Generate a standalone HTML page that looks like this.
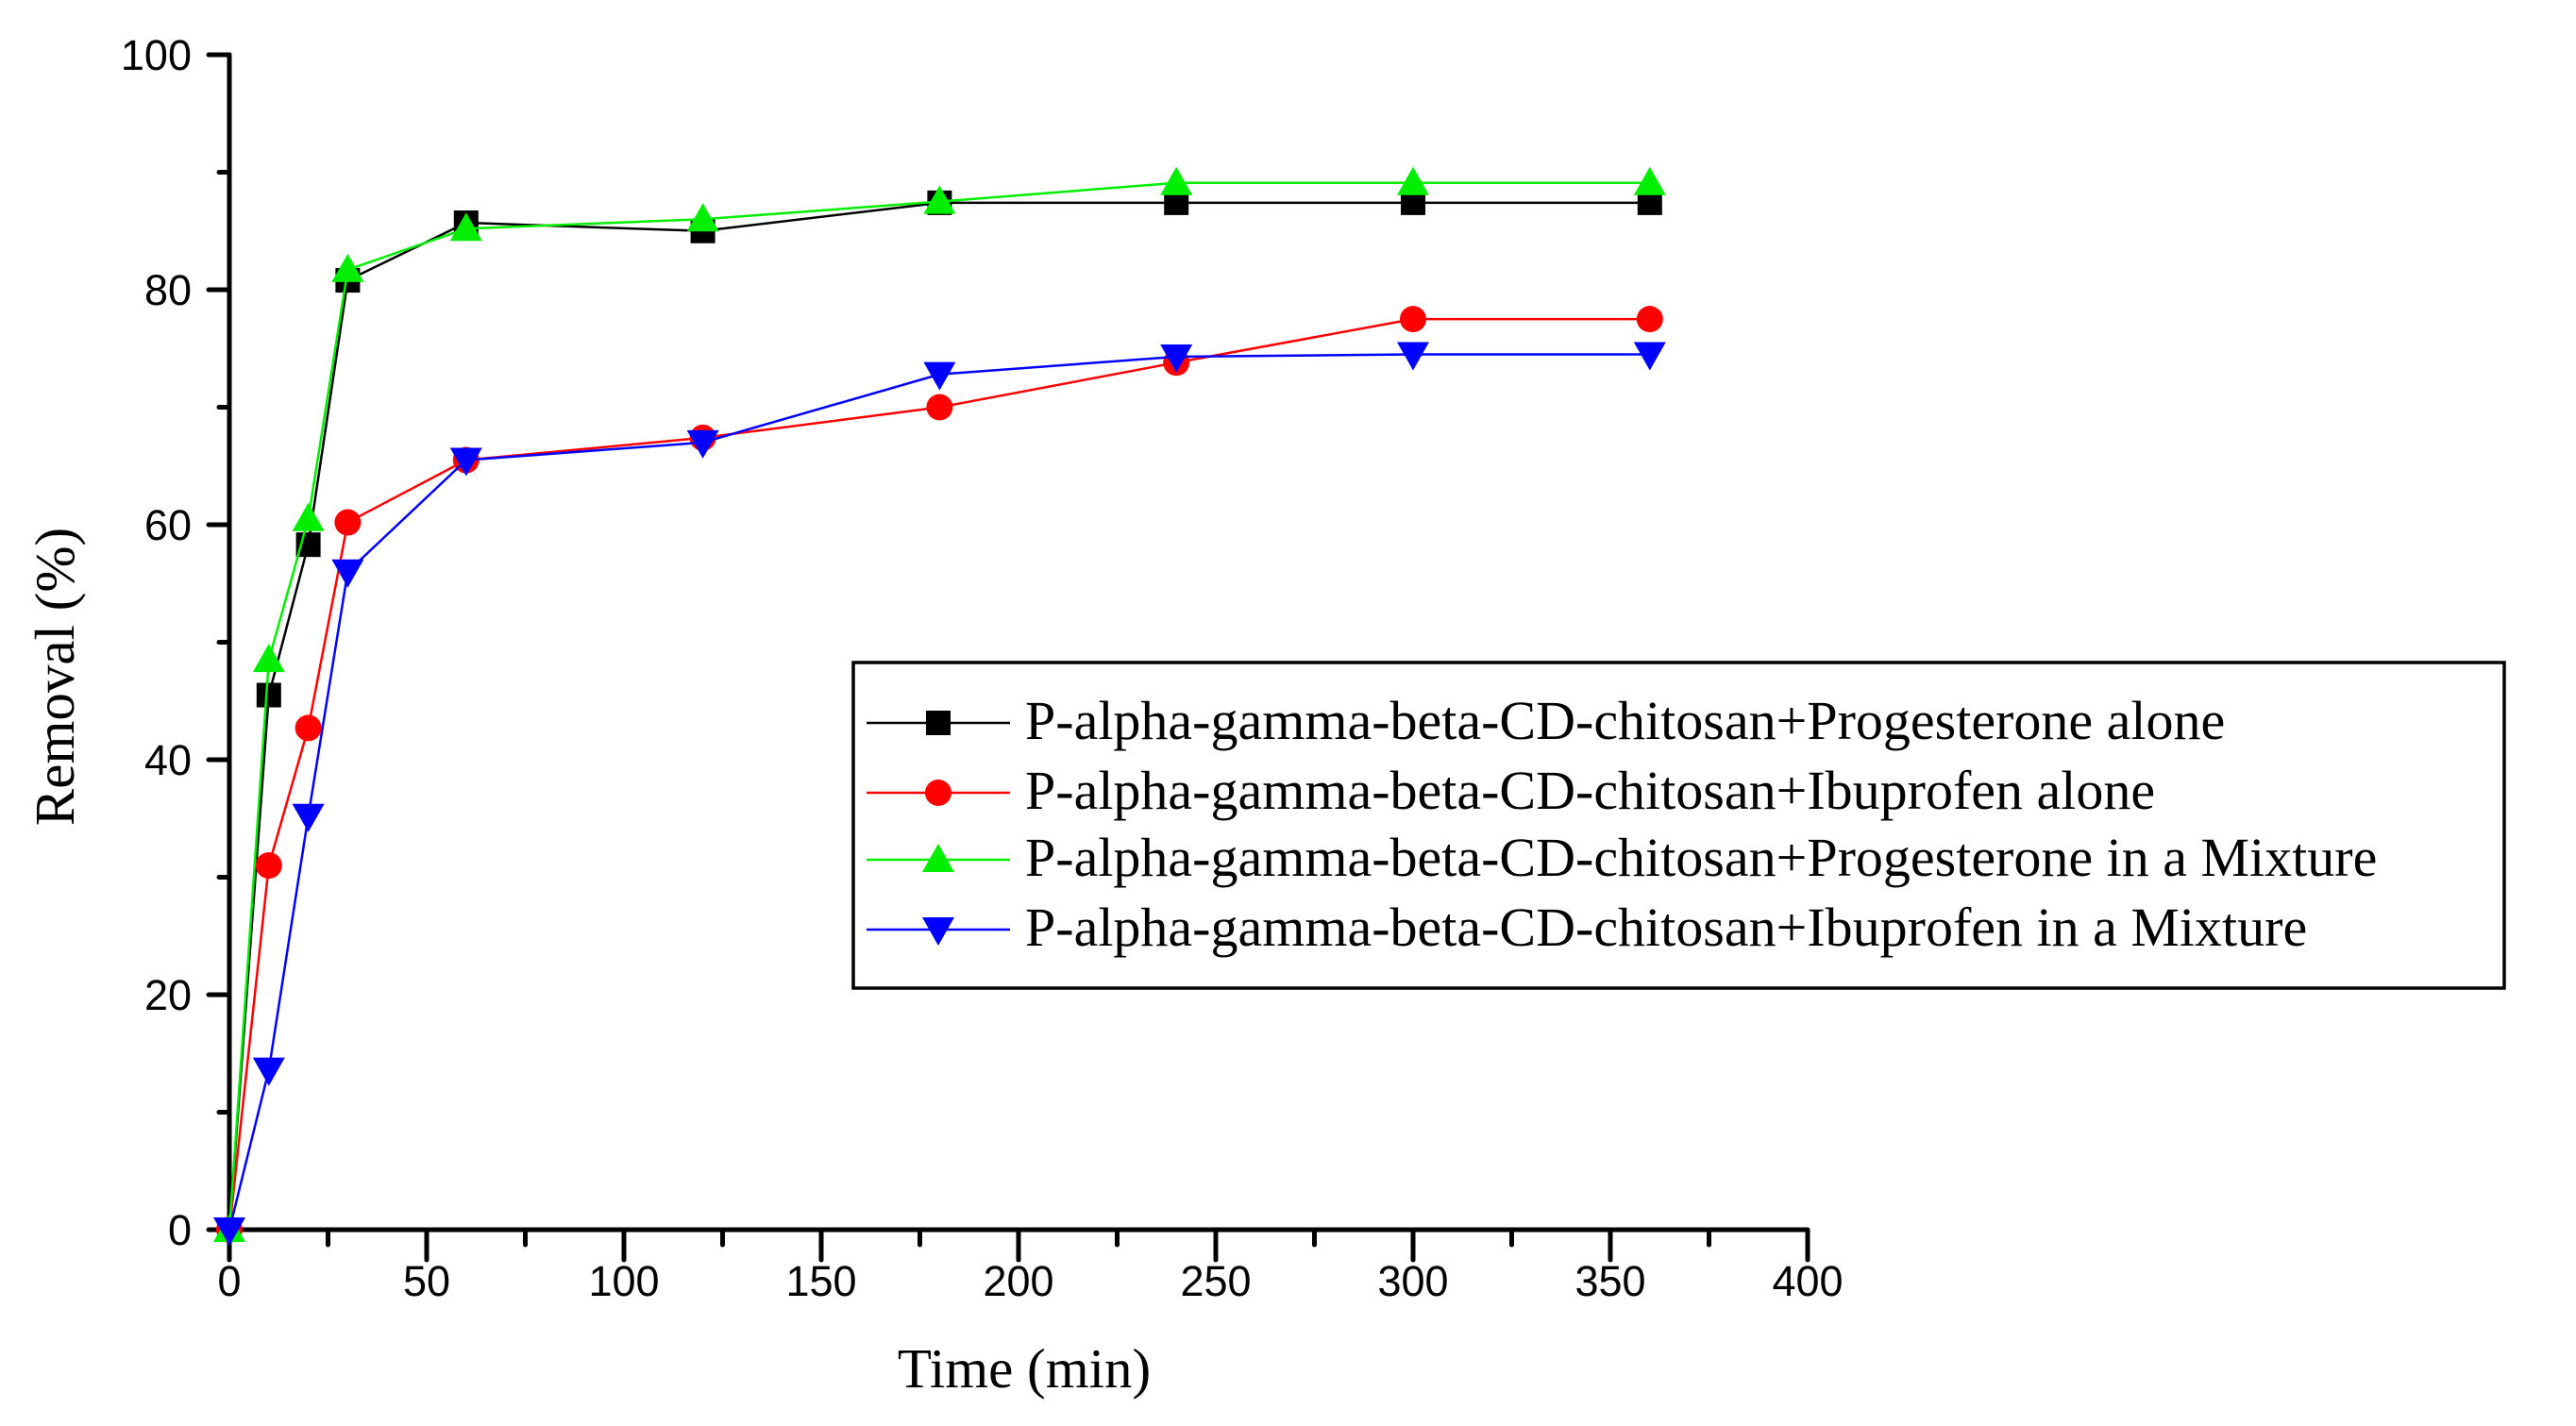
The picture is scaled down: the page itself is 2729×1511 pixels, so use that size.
<!DOCTYPE html>
<html><head><meta charset="utf-8"><style>
html,body{margin:0;padding:0;background:#fff;}
svg{display:block;}
</style></head><body>
<svg id="chart" width="2729" height="1511" viewBox="0 0 2729 1511" xmlns="http://www.w3.org/2000/svg">
<g id="axes"></g><g id="series"></g><g id="legend"></g>
</svg>
<script>
const times = [0,10,20,30,60,120,180,240,300,360];
const progAlone = [0,45.5,58.3,80.8,85.7,85.0,87.4,87.4,87.4,87.4];
const ibuAlone = [0,31,42.7,60.2,65.5,67.4,70,73.8,77.5,77.5];
const progMix = [0,48.5,60.5,81.7,85.2,86,87.5,89.1,89.1,89.1];
const ibuMix = [0,13.6,35.2,56,65.5,67,72.8,74.3,74.5,74.5];
const xTicks = [0,50,100,150,200,250,300,350,400];
const yTicks = [0,20,40,60,80,100];
const seriesNames = ["P-alpha-gamma-beta-CD-chitosan+Progesterone alone","P-alpha-gamma-beta-CD-chitosan+Ibuprofen alone","P-alpha-gamma-beta-CD-chitosan+Progesterone in a Mixture","P-alpha-gamma-beta-CD-chitosan+Ibuprofen in a Mixture"];

const NS="http://www.w3.org/2000/svg";
const X0=243,X1=1915,Y0=1303,Y1=58;
function sx(v){return X0+(v-0)/400*(X1-X0);}
function sy(v){return Y0-(v-0)/100*(Y0-Y1);}
function mk(tag,attrs,parent){const e=document.createElementNS(NS,tag);for(const k in attrs)e.setAttribute(k,attrs[k]);parent.appendChild(e);return e;}
const axes=document.getElementById('axes'),ser=document.getElementById('series'),leg=document.getElementById('legend');

let a=mk('line',{x1:X0,y1:Y0,x2:X1,y2:Y0,stroke:'#000','stroke-width':5,'stroke-linecap':'round'},axes);


a=mk('line',{x1:X0,y1:Y0,x2:X0,y2:Y1,stroke:'#000','stroke-width':5,'stroke-linecap':'round'},axes);



for(const t of xTicks){
  const l=mk('line',{x1:sx(t),y1:Y0,x2:sx(t),y2:Y0+32,stroke:'#000','stroke-width':5,'stroke-linecap':'round'},axes);
  
  
  const tx=mk('text',{x:sx(t),y:Y0+70,'font-family':'Liberation Sans, sans-serif','font-size':45,'text-anchor':'middle'},axes);
  tx.textContent=t;
  
  
}
for(let t=25;t<400;t+=50){
  const l=mk('line',{x1:sx(t),y1:Y0,x2:sx(t),y2:Y0+16,stroke:'#000','stroke-width':5,'stroke-linecap':'round'},axes);
  
  
}
for(const t of yTicks){
  const l=mk('line',{x1:X0-22,y1:sy(t),x2:X0,y2:sy(t),stroke:'#000','stroke-width':5,'stroke-linecap':'round'},axes);
  
  
  const tx=mk('text',{x:X0-40,y:sy(t)+16,'font-family':'Liberation Sans, sans-serif','font-size':45,'text-anchor':'end'},axes);
  tx.textContent=t;
  
  
}
for(let t=10;t<100;t+=20){
  const l=mk('line',{x1:X0-11,y1:sy(t),x2:X0,y2:sy(t),stroke:'#000','stroke-width':5,'stroke-linecap':'round'},axes);
  
  
}
let tt=mk('text',{x:1085,y:1470,'font-family':'Liberation Serif, serif','font-size':59,'text-anchor':'middle'},axes);
tt.textContent='Time (min)';


tt=mk('text',{x:0,y:0,'font-family':'Liberation Serif, serif','font-size':59,'text-anchor':'middle',transform:'translate(78,717) rotate(-90)'},axes);
tt.textContent='Removal (%)';



function marker(type,x,y,color,parent){
  if(type==='square') return mk('rect',{x:x-13,y:y-13,width:26,height:26,fill:color},parent);
  if(type==='circle') return mk('circle',{cx:x,cy:y,r:14,fill:color},parent);
  if(type==='up') return mk('polygon',{points:`${x},${y-17} ${x-17},${y+13} ${x+17},${y+13}`,fill:color},parent);
  return mk('polygon',{points:`${x},${y+17} ${x-17},${y-13} ${x+17},${y-13}`,fill:color},parent);
}
const allSeries=[[progAlone,'#000','square','progesterone-alone'],[ibuAlone,'#ff0000','circle','ibuprofen-alone'],[progMix,'#00ee00','up','progesterone-mixture'],[ibuMix,'#0000ff','down','ibuprofen-mixture']];
allSeries.forEach(([vals,color,type,name])=>{
  const g=mk('g',{},ser);
  
  
  const pl=mk('polyline',{points:times.map((t,i)=>sx(t)+','+sy(vals[i])).join(' '),fill:'none',stroke:color,'stroke-width':2.5},g);
  
  
  times.forEach((t,i)=>{
    const m=marker(type,sx(t),sy(vals[i]),color,g);
    
    
  });
});

const box=mk('rect',{x:904,y:702,width:1749,height:345,fill:'#fff',stroke:'#000','stroke-width':3.5},leg);


const ly=[766,840,911,985];
allSeries.forEach(([vals,color,type,name],i)=>{
  const g=mk('g',{},leg);
  
  
  mk('line',{x1:918,y1:ly[i],x2:1070,y2:ly[i],stroke:color,'stroke-width':2.5},g);
  marker(type,994,ly[i],color,g);
  const t=mk('text',{x:1086,y:ly[i]+17,'font-family':'Liberation Serif, serif','font-size':58},g);
  t.textContent=seriesNames[i];
});
</script>
</body></html>
